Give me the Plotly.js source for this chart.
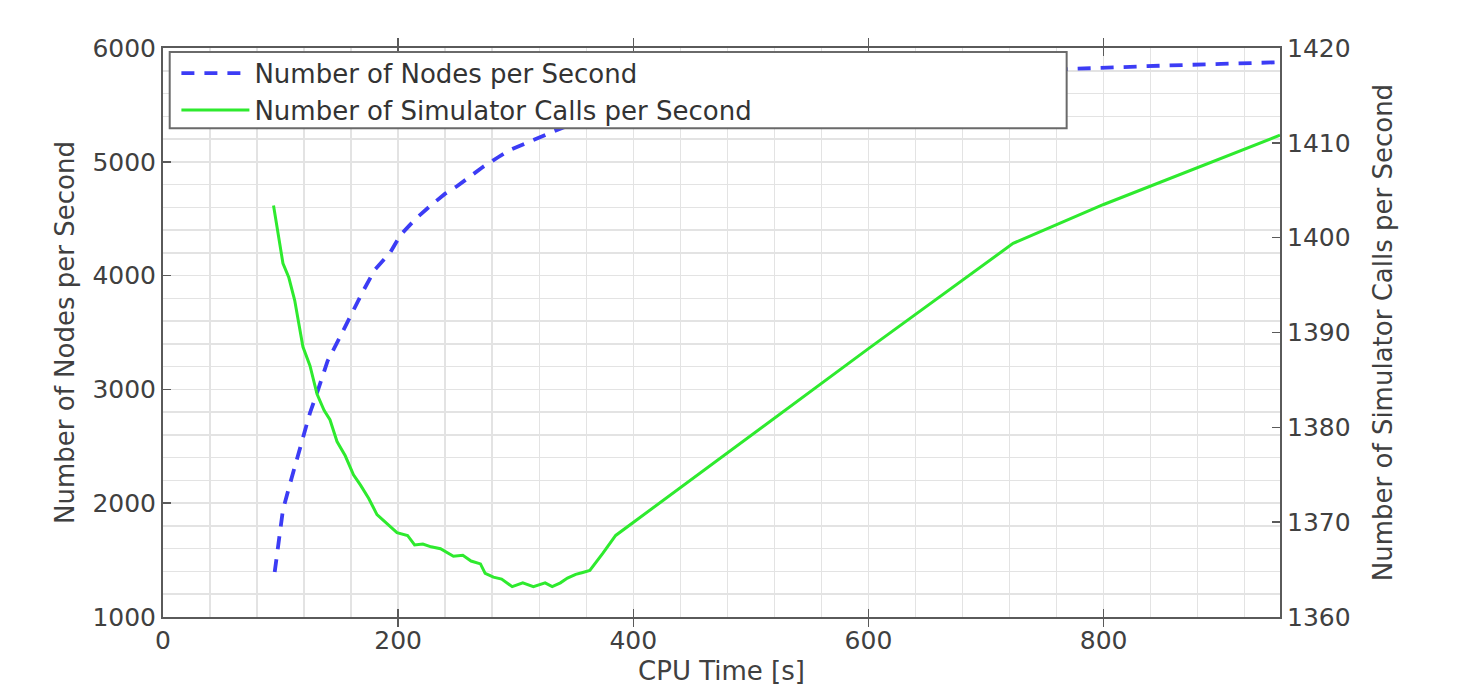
<!DOCTYPE html>
<html>
<head>
<meta charset="utf-8">
<script src="https://cdn.plot.ly/plotly-3.0.1.min.js"></script>
<style>html,body{margin:0;padding:0;background:#fff;}#chart{width:1463px;height:686px;}</style>
</head>
<body>
<div id="chart"></div>
<script>
// CPU time [s] and Number of Nodes per Second (left axis)
var nodesTime = [95, 102, 108, 114, 120, 125, 132, 140, 150, 159, 170, 180, 193, 202, 215, 227, 240, 250, 262, 272, 285, 295, 310, 321, 340, 370, 400, 450, 500, 550, 600, 650, 700, 750, 800, 850, 900, 950];
var nodesPerSecond = [1395, 1940, 2170, 2380, 2600, 2793, 3000, 3250, 3450, 3636, 3860, 4050, 4199, 4357, 4500, 4610, 4720, 4785, 4880, 4954, 5040, 5103, 5170, 5218, 5300, 5400, 5480, 5580, 5650, 5700, 5740, 5770, 5790, 5810, 5830, 5845, 5860, 5875];

// CPU time [s] and Number of Simulator Calls per Second (right axis)
var callsTime = [94, 98, 102, 107, 112, 119, 125, 131, 137, 142, 148, 155, 162, 168, 175, 182, 190, 199, 208, 214, 221, 228, 236, 242, 247, 255, 262, 270, 274, 281, 288, 297, 306, 315, 325, 331, 338, 344, 351, 357, 363, 374, 385, 600, 723, 800, 950];
var callsPerSecond = [1403.4, 1400.5, 1397.3, 1395.8, 1393.4, 1388.5, 1386.5, 1383.5, 1381.8, 1380.8, 1378.5, 1377.0, 1375.0, 1373.9, 1372.5, 1370.8, 1369.9, 1368.9, 1368.6, 1367.6, 1367.7, 1367.4, 1367.2, 1366.8, 1366.4, 1366.5, 1365.9, 1365.6, 1364.6, 1364.2, 1364.0, 1363.2, 1363.6, 1363.2, 1363.6, 1363.2, 1363.6, 1364.1, 1364.5, 1364.7, 1364.9, 1366.7, 1368.6, 1388.3, 1399.4, 1403.5, 1410.8];

var seriesNames = ["Number of Nodes per Second", "Number of Simulator Calls per Second"];
var xTickVals = [0, 200, 400, 600, 800];
var leftTickVals = [1000, 2000, 3000, 4000, 5000, 6000];
var rightTickVals = [1360, 1370, 1380, 1390, 1400, 1410, 1420];

var FONT = "DejaVu Sans, sans-serif";
var TXT = "#404040";
var GRID = "#e3e3e3";
var AX = "#5a5a5a";

var traces = [
  {
    x: nodesTime, y: nodesPerSecond, name: seriesNames[0], type: "scatter", mode: "lines",
    line: {color: "#3c3cf5", width: 3.8, dash: "13px,10px"}, yaxis: "y"
  },
  {
    x: callsTime, y: callsPerSecond, name: seriesNames[1], type: "scatter", mode: "lines",
    line: {color: "#2eea2e", width: 3}, yaxis: "y2"
  }
];

var layout = {
  width: 1463, height: 686,
  margin: {l: 163, r: 183, t: 48, b: 69, pad: 0},
  paper_bgcolor: "#ffffff", plot_bgcolor: "#ffffff",
  font: {family: FONT, color: TXT, size: 25},
  showlegend: true,
  legend: {
    x: 0.012, y: 0.997, xanchor: "left", yanchor: "top",
    bgcolor: "rgba(0,0,0,0)", borderwidth: 0,
    font: {family: FONT, size: 26, color: "#333333"},
    itemwidth: 68, tracegroupgap: 0
  },
  xaxis: {
    range: [0, 950], tickvals: xTickVals, ticktext: xTickVals.map(String),
    showgrid: true, gridcolor: GRID, gridwidth: 1.5,
    minor: {dtick: 40, tick0: 0, showgrid: true, gridcolor: GRID, gridwidth: 1.5},
    ticks: "inside", ticklen: 8, tickcolor: AX, tickwidth: 1.5,
    showline: true, linecolor: AX, linewidth: 2, mirror: "allticks",
    zeroline: false, automargin: false,
    tickfont: {family: FONT, size: 25, color: TXT},
    title: {text: "CPU Time [s]", font: {family: FONT, size: 26, color: TXT}, standoff: 19}
  },
  yaxis: {
    range: [1000, 6000], tickvals: leftTickVals, ticktext: leftTickVals.map(String),
    showgrid: true, gridcolor: GRID, gridwidth: 1.5,
    minor: {dtick: 200, tick0: 1000, showgrid: true, gridcolor: GRID, gridwidth: 1.5},
    ticks: "inside", ticklen: 8, tickcolor: AX, tickwidth: 1.5,
    showline: true, linecolor: AX, linewidth: 2, mirror: true,
    zeroline: false,
    tickfont: {family: FONT, size: 25, color: TXT},
    title: {text: "Number of Nodes per Second", font: {family: FONT, size: 26, color: TXT}, standoff: 10}
  },
  yaxis2: {
    range: [1360, 1420], tickvals: rightTickVals, ticktext: rightTickVals.map(String),
    overlaying: "y", side: "right",
    showgrid: false, zeroline: false,
    ticks: "inside", ticklen: 8, tickcolor: AX, tickwidth: 1.5,
    showline: true, linecolor: AX, linewidth: 2,
    tickfont: {family: FONT, size: 25, color: TXT},
    title: {text: "Number of Simulator Calls per Second", font: {family: FONT, size: 26, color: TXT}, standoff: 24}
  },
  shapes: [
    {
      type: "rect", xref: "paper", yref: "paper", layer: "above",
      x0: 0.006, x1: 0.809, y0: 0.859, y1: 0.993,
      fillcolor: "#ffffff", line: {color: "#6a6a6a", width: 2}
    }
  ]
};

Plotly.newPlot("chart", traces, layout, {displayModeBar: false, staticPlot: true});
</script>
</body>
</html>
